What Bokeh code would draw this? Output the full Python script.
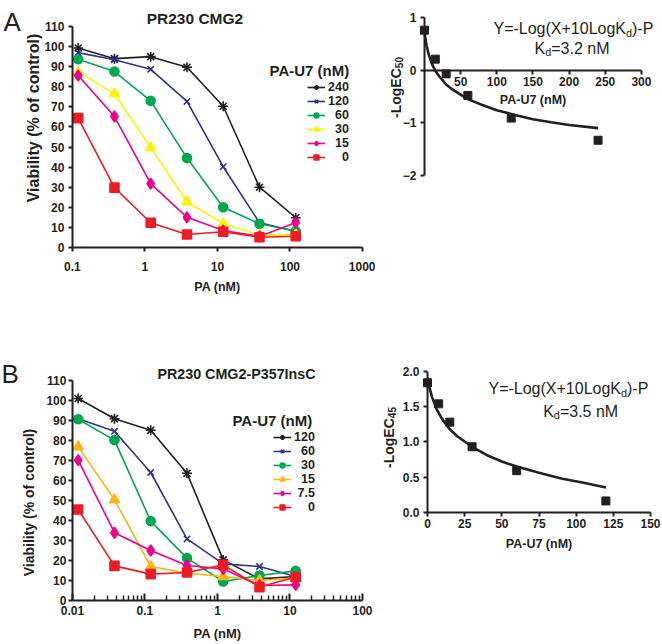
import math
from bokeh.plotting import figure
from bokeh.layouts import column, row
from bokeh.models import (Label, Legend, LegendItem, FixedTicker, Range1d,
                          CustomJSTickFormatter)
from bokeh.embed import file_html
from bokeh.resources import INLINE

FONT = "Liberation Sans"
INK = "#231f20"

# ---------------- data: panel A (PR230 CMG2) ----------------
a_pa = [0.12, 0.38, 1.2, 3.8, 12, 38, 120]
a_labels = ["240", "120", "\u00a0\u00a060", "\u00a0\u00a030", "\u00a0\u00a015", "\u00a0\u00a0\u00a0\u00a00"]
a_240 = [99.3, 94.0, 95.0, 89.7, 70.3, 30.0, 14.8]
a_120 = [97.0, 93.5, 88.7, 72.7, 40.2, 12.3, 8.1]
a_60 = [93.7, 87.6, 73.0, 44.5, 20.0, 11.8, 8.1]
a_30 = [87.3, 76.5, 49.7, 22.8, 11.8, 6.3, 6.3]
a_15 = [85.6, 65.2, 31.8, 15.0, 8.5, 5.5, 12.4]
a_0 = [64.4, 29.8, 12.3, 6.5, 7.8, 5.1, 5.6]
a_xticks = [0.1, 1, 10, 100, 1000]
a_yticks = [0, 10, 20, 30, 40, 50, 60, 70, 80, 90, 100, 110]

ecA_x = [0, 15, 30, 60, 120, 240]
ecA_y = [0.76, 0.21, -0.07, -0.48, -0.91, -1.33]
fitA_x = [0, 1, 3, 6, 10, 15, 20, 30, 40, 60, 80, 100, 125, 150, 175, 200, 240]
fitA_y = [0.75, 0.63, 0.46, 0.29, 0.13, -0.01, -0.11, -0.27, -0.38, -0.55, -0.66,
          -0.76, -0.85, -0.93, -0.99, -1.04, -1.10]
ecA_xticks = [50, 100, 150, 200, 250, 300]
ecA_yticks = [-2, -1, 0, 1]

# ---------------- data: panel B (PR230 CMG2-P357InsC) ----------------
b_pa = [0.012, 0.038, 0.12, 0.38, 1.2, 3.8, 12]
b_labels = ["120", "\u00a0\u00a060", "\u00a0\u00a030", "\u00a0\u00a015", "\u00a07.5", "\u00a0\u00a0\u00a0\u00a00"]
b_120 = [101.0, 90.9, 85.1, 63.6, 20.3, 10.8, 12.0]
b_60 = [90.9, 84.6, 64.0, 30.8, 18.3, 17.0, 12.0]
b_30 = [90.6, 80.2, 39.7, 21.2, 9.5, 12.5, 14.8]
b_15 = [76.9, 50.4, 17.0, 13.7, 12.0, 10.0, 11.2]
b_7_5 = [70.2, 33.9, 25.0, 17.5, 15.8, 7.5, 7.8]
b_0 = [45.5, 17.3, 13.2, 14.0, 17.8, 6.7, 11.7]
b_xticks = [0.01, 0.1, 1, 10, 100]
b_yticks = [0, 10, 20, 30, 40, 50, 60, 70, 80, 90, 100, 110]

ecB_x = [0, 7.5, 15, 30, 60, 120]
ecB_y = [1.84, 1.54, 1.28, 0.93, 0.59, 0.16]
fitB_x = [0, 1, 3, 6, 10, 15, 20, 30, 40, 50, 60, 75, 90, 105, 120]
fitB_y = [1.91, 1.80, 1.64, 1.47, 1.32, 1.18, 1.08, 0.93, 0.81, 0.72, 0.65, 0.56,
          0.48, 0.42, 0.35]
ecB_xticks = [0, 25, 50, 75, 100, 125, 150]
ecB_yticks = [0.0, 0.5, 1.0, 1.5, 2.0]

COL = {"black": INK, "blue": "#2e3192", "green": "#00a650", "yellowA": "#fff200",
       "yellowB": "#fbb416", "magenta": "#ec008c", "red": "#ed1c24"}

# Arial / Liberation Sans advance widths (per 1000 em), regular and bold
W = {"Y": 667, "=": 584, "-": 333, "L": 556, "o": 556, "g": 556, "(": 333, "X": 667,
     "+": 584, "K": 667, "d": 556, ")": 333, "P": 667, ".": 278, " ": 278, "n": 556,
     "M": 833}
WB = {"-": 333, "L": 611, "o": 611, "g": 611, "E": 667, "C": 722}


def tw(s, size, bold=False):
    table = WB if bold else W
    return sum(table.get(c, 556) for c in s) * size / 1000.0


def label(p, x, y, s, size, bold=False, align="left", baseline="alphabetic",
          xo=0, yo=0, units="data", angle=0.0):
    p.add_layout(Label(x=x, y=y, x_units=units, y_units=units, text=s,
                       text_font=FONT, text_font_size=f"{size}px",
                       text_font_style="bold" if bold else "normal",
                       text_color=INK, text_align=align, text_baseline=baseline,
                       x_offset=xo, y_offset=yo, angle=angle))


def rich(p, x, y, parts, size):
    """horizontal text with subscripts; parts: list of (text, is_subscript)"""
    off = 0.0
    for s, sub in parts:
        sz = size * 0.68 if sub else size
        label(p, x, y, s, round(sz, 1), xo=off, yo=-4 if sub else 0)
        off += tw(s, sz)


def rich_up(p, x, y, parts, size):
    """bold text rotated to read upwards, with subscripts (screen units)"""
    off = 0.0
    for s, sub in parts:
        sz = size * 0.72 if sub else size
        label(p, x, y, s, round(sz, 1), bold=True, xo=3 if sub else 0, yo=off,
              units="screen", angle=math.pi / 2)
        off += tw(s, sz, bold=True)


def style(p):
    p.xgrid.visible = False
    p.ygrid.visible = False
    p.outline_line_color = None
    p.background_fill_color = "white"
    p.border_fill_color = "white"
    for ax in p.axis:
        ax.axis_line_width = 2
        ax.axis_line_color = INK
        ax.major_tick_line_width = 2
        ax.major_tick_line_color = INK
        ax.major_tick_out = 4
        ax.major_tick_in = 0
        ax.minor_tick_line_color = None
        ax.major_label_text_font = FONT
        ax.major_label_text_font_style = "bold"
        ax.major_label_text_font_size = "12px"
        ax.major_label_text_color = INK
        ax.axis_label_text_font = FONT
        ax.axis_label_text_font_style = "bold"
        ax.axis_label_text_color = INK


def curves(p, xs, series):
    items = []
    for lab, vals, color, marker, size in series:
        ln = p.line(xs, vals, line_color=color, line_width=1.6)
        sc = p.scatter(xs, vals, marker=marker, size=size, line_color=color,
                       fill_color=color, line_width=1.6)
        items.append(LegendItem(label=lab, renderers=[ln, sc]))
    return items


def legend(items, loc):
    return Legend(items=items, location=loc, padding=0, margin=0, spacing=0,
                  glyph_width=18, glyph_height=12, label_height=12, label_standoff=3,
                  label_text_font=FONT, label_text_font_style="bold",
                  label_text_font_size="12.5px", label_text_color=INK,
                  border_line_color=None, background_fill_alpha=0)


def fig(w, h, xr, yr, log=False):
    return figure(width=w, height=h, title=None, x_axis_type="log" if log else "linear",
                  x_range=Range1d(*xr), y_range=Range1d(*yr),
                  min_border_left=0, min_border_right=0, min_border_top=0,
                  min_border_bottom=0, output_backend="svg", toolbar_location=None)


# Every frame fills its whole canvas; all axes sit at fixed data locations inside
# the frames, so texts outside the axes are drawn inside the frame area.
# Page has no margin: left column 375 px wide, right 287; rows 325 and 319 px.

# ======================= panel A, left =======================
p1 = fig(375, 325, (0.010188, 1511), (-38.83, 122.95), log=True)
itemsA = curves(p1, a_pa, [
    (a_labels[0], a_240, COL["black"], "asterisk", 10),
    (a_labels[1], a_120, COL["blue"], "x", 9),
    (a_labels[2], a_60, COL["green"], "circle", 9),
    (a_labels[3], a_30, COL["yellowA"], "triangle", 10),
    (a_labels[4], a_15, COL["magenta"], "diamond", 11),
    (a_labels[5], a_0, COL["red"], "square", 9),
])
style(p1)
p1.xaxis.fixed_location = 0
p1.xaxis.ticker = FixedTicker(ticks=a_xticks)
p1.xaxis.formatter = CustomJSTickFormatter(code="return tick.toString();")
p1.xaxis.bounds = (0.1, 1000)
p1.xaxis.major_label_standoff = 11
p1.xaxis.axis_label = "PA (nM)"
p1.xaxis.axis_label_text_font_size = "12.5px"
p1.xaxis.axis_label_standoff = 5
p1.yaxis.fixed_location = 0.1
p1.yaxis.ticker = FixedTicker(ticks=a_yticks)
p1.yaxis.bounds = (0, 110)
p1.yaxis.major_label_standoff = 4
p1.add_layout(legend(itemsA, (307, 161)))
label(p1, 4.89, 114.0, "PR230 CMG2", 15.5, bold=True, align="center", baseline="middle")
label(p1, 52.2, 88.1, "PA-U7 (nM)", 15, bold=True, baseline="middle")
label(p1, 33, 207.5, "Viability (% of control)", 16, bold=True, align="center",
      baseline="middle", units="screen", angle=math.pi / 2)
label(p1, 3, 304, "A", 26, units="screen")

# ======================= panel A, right =======================
p2 = fig(287, 325, (-67.7, 329.1), (-4.847, 1.323))
p2.line(fitA_x, fitA_y, line_color=INK, line_width=2.6)
p2.scatter(ecA_x, ecA_y, marker="square", size=8, color=INK)
style(p2)
p2.xaxis.fixed_location = 0
p2.xaxis.bounds = (0, 300)
p2.xaxis.ticker = FixedTicker(ticks=ecA_xticks)
p2.xaxis.major_label_standoff = 3
p2.xaxis.axis_label = "PA-U7 (nM)"
p2.xaxis.axis_label_text_font_size = "12.5px"
p2.xaxis.axis_label_standoff = 3
p2.yaxis.fixed_location = 0
p2.yaxis.ticker = FixedTicker(ticks=ecA_yticks)
p2.yaxis.bounds = (-2, 1)
p2.yaxis.major_label_standoff = 4
rich_up(p2, 20, 207.5, [("-LogEC", False), ("50", True)], 14)
rich(p2, 95.4, 0.786, [("Y=-Log(X+10LogK", False), ("d", True), (")-P", False)], 16)
rich(p2, 152.1, 0.416, [("K", False), ("d", True), ("=3.2 nM", False)], 16)

# ======================= panel B, left =======================
p3 = fig(375, 319, (0.0010188, 151.1), (-22.0, 137.5), log=True)
itemsB = curves(p3, b_pa, [
    (b_labels[0], b_120, COL["black"], "asterisk", 10),
    (b_labels[1], b_60, COL["blue"], "x", 9),
    (b_labels[2], b_30, COL["green"], "circle", 9),
    (b_labels[3], b_15, COL["yellowB"], "triangle", 10),
    (b_labels[4], b_7_5, COL["magenta"], "diamond", 11),
    (b_labels[5], b_0, COL["red"], "square", 9),
])
style(p3)
minorB = [m * d for d in (0.01, 0.1, 1, 10) for m in range(2, 10)]
p3.xaxis.fixed_location = 0
p3.xaxis.ticker = FixedTicker(ticks=b_xticks, minor_ticks=minorB)
p3.xaxis.formatter = CustomJSTickFormatter(code="return tick.toString();")
p3.xaxis.bounds = (0.01, 100)
p3.xaxis.major_tick_out = 0
p3.xaxis.major_tick_in = 7
p3.xaxis.minor_tick_line_color = INK
p3.xaxis.minor_tick_line_width = 1.5
p3.xaxis.minor_tick_in = 5
p3.xaxis.minor_tick_out = 0
p3.xaxis.major_label_standoff = 5
p3.xaxis.axis_label = "PA (nM)"
p3.xaxis.axis_label_text_font_size = "13px"
p3.xaxis.axis_label_standoff = 8
p3.yaxis.fixed_location = 0.01
p3.yaxis.ticker = FixedTicker(ticks=b_yticks)
p3.yaxis.bounds = (0, 110)
p3.yaxis.major_label_standoff = 2
p3.add_layout(legend(itemsB, (273, 130)))
label(p3, 1.83, 113.5, "PR230 CMG2-P357InsC", 14.3, bold=True, align="center", baseline="middle")
label(p3, 1.61, 90.0, "PA-U7 (nM)", 15, bold=True, baseline="middle")
label(p3, 28, 142, "Viability (% of control)", 14, bold=True, align="center",
      baseline="middle", units="screen", angle=math.pi / 2)
label(p3, 1, 271, "B", 26, units="screen")

# ======================= panel B, right =======================
p4 = fig(287, 319, (-34.98, 158.07), (-1.8806, 2.654))
p4.line(fitB_x, fitB_y, line_color=INK, line_width=2.6)
p4.scatter(ecB_x, ecB_y, marker="square", size=8, color=INK)
style(p4)
p4.xaxis.fixed_location = 0
p4.xaxis.bounds = (0, 150)
p4.xaxis.ticker = FixedTicker(ticks=ecB_xticks)
p4.xaxis.major_label_standoff = 3
p4.xaxis.axis_label = "PA-U7 (nM)"
p4.xaxis.axis_label_text_font_size = "12.5px"
p4.xaxis.axis_label_standoff = 5
p4.yaxis.fixed_location = 0
p4.yaxis.ticker = FixedTicker(ticks=ecB_yticks)
p4.yaxis.bounds = (0, 2)
p4.yaxis.formatter = CustomJSTickFormatter(code="return tick.toFixed(1);")
p4.yaxis.major_label_standoff = 4
rich_up(p4, 13, 176.5, [("-LogEC", False), ("45", True)], 14)
rich(p4, 41.0, 1.754, [("Y=-Log(X+10LogK", False), ("d", True), (")-P", False)], 16)
rich(p4, 77.8, 1.436, [("K", False), ("d", True), ("=3.5 nM", False)], 16)

layout = column(row(p1, p2), row(p3, p4))
open("out.html", "w").write(file_html(layout, INLINE))
